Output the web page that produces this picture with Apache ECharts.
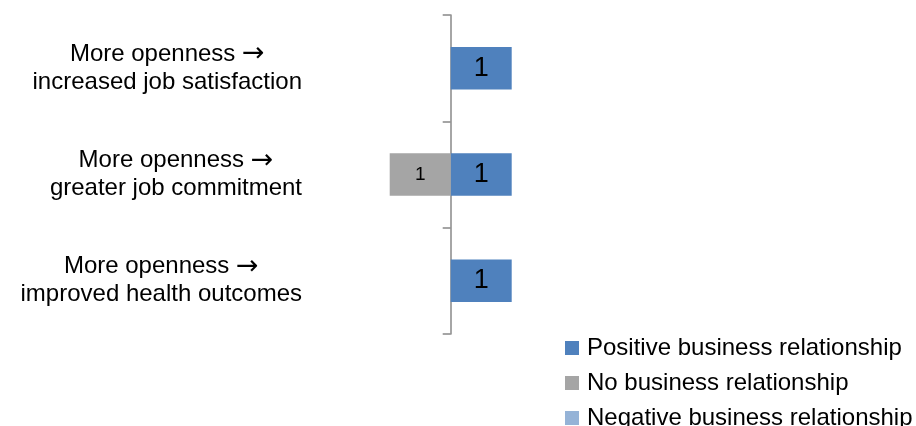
<!DOCTYPE html>
<html>
<head>
<meta charset="utf-8">
<script src="https://cdn.jsdelivr.net/npm/echarts@6/dist/echarts.min.js"></script>
<style>
html,body{margin:0;padding:0;background:#fff;}
#chart{width:916px;height:426px;}
</style>
</head>
<body>
<div id="chart"></div>
<script>
var categoryLine1 = ['More openness', 'More openness', 'More openness'];
var categoryLine2 = ['increased job satisfaction', 'greater job commitment', 'improved health outcomes'];
var seriesNames = ['Positive business relationship', 'No business relationship', 'Negative business relationship'];
var positiveValues = [1, 1, 1];
var noRelationValues = [null, -1, null];
var negativeValues = [null, null, null];

var FONT = 'Liberation Sans';
var LABEL_SIZE = 24, ARROW_SIZE = 27;
var ARROW = ' \u2192';
var catLabels = categoryLine1.map(function (l, i) { return l + '\n' + categoryLine2[i]; });

var chart = echarts.init(document.getElementById('chart'));
chart.setOption({
  animation: false,
  textStyle: { fontFamily: FONT },
  grid: { left: 328.7, right: 343.3, top: 15, bottom: 92, containLabel: false, outerBoundsMode: 'none' },
  legend: {
    orient: 'vertical',
    left: 565,
    top: 336,
    height: 100,
    padding: 0,
    itemWidth: 14,
    itemHeight: 14,
    itemGap: 11,
    icon: 'rect',
    textStyle: { fontFamily: FONT, fontSize: 24, color: '#000', padding: [0, 0, 0, 3] },
    data: seriesNames
  },
  xAxis: {
    type: 'value',
    min: -2,
    max: 2,
    show: false,
    splitLine: { show: false }
  },
  yAxis: {
    type: 'category',
    inverse: true,
    data: catLabels,
    axisLine: { show: true, onZero: true, lineStyle: { color: '#888888', width: 1.5 } },
    axisTick: { show: true, length: 8, lineStyle: { color: '#888888', width: 1.5 } },
    axisLabel: {
      margin: 26.7,
      align: 'right',
      formatter: function (v) {
        var parts = v.split('\n');
        return '{c|' + parts[0] + ' }{a|\u2192}\n{c|' + parts[1] + '}';
      },
      rich: {
        c: { align: 'center', fontFamily: FONT, fontSize: LABEL_SIZE, lineHeight: 28, color: '#000' },
        a: { align: 'center', fontFamily: 'DejaVu Sans', fontSize: ARROW_SIZE, lineHeight: 28, color: '#000' }
      }
    }
  },
  series: [
    {
      name: seriesNames[0], type: 'bar', stack: 'all', barWidth: '40%',
      data: positiveValues,
      itemStyle: { color: '#4F81BD' },
      label: { show: true, position: 'inside', color: '#000', fontFamily: FONT, fontSize: 27,
        formatter: function (p) { return Math.abs(p.value); } }
    },
    {
      name: seriesNames[1], type: 'bar', stack: 'all', barWidth: '40%',
      data: noRelationValues,
      itemStyle: { color: '#A5A5A5' },
      label: { show: true, position: 'inside', color: '#000', fontFamily: FONT, fontSize: 19,
        formatter: function (p) { return Math.abs(p.value); } }
    },
    {
      name: seriesNames[2], type: 'bar', stack: 'all', barWidth: '40%',
      data: negativeValues,
      itemStyle: { color: '#95B3D7' }
    }
  ]
});
</script>
</body>
</html>
